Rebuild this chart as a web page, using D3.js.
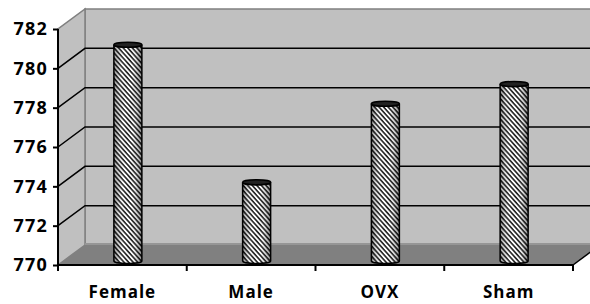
<!DOCTYPE html>
<html>
<head>
<meta charset="utf-8">
<script src="https://cdn.jsdelivr.net/npm/d3@7/dist/d3.min.js"></script>
<style>
  html, body { margin: 0; padding: 0; background: #fff; }
  svg { display: block; }
</style>
</head>
<body>
<div id="chart"></div>
<script>
const categories = ['Female', 'Male', 'OVX', 'Sham'];
const values = [781, 774, 778, 779];
const yTicks = [770, 772, 774, 776, 778, 780, 782];

const width = 590, height = 304;
const plotLeft = 58, plotRight = 573, plotBottom = 265, plotTop = 29;
const depthX = 27, depthY = -20;   // back wall offset
const barDX = 5.5, barDY = -4;     // bars sit a little behind the front plane
const barW = 28;
const fontFamily = '"Open Sans", Lato, sans-serif';

const svg = d3.select('#chart').append('svg')
  .attr('width', width)
  .attr('height', height);

const x = d3.scaleBand().domain(categories).range([plotLeft, plotRight]).padding(0);
const y = d3.scaleLinear().domain([770, 782]).range([plotBottom, plotTop]);

const defs = svg.append('defs');

// Diagonal hatch, running top-left to bottom-right
const hatch = defs.append('pattern')
  .attr('id', 'hatch')
  .attr('patternUnits', 'userSpaceOnUse')
  .attr('width', 3.4)
  .attr('height', 3.4)
  .attr('patternTransform', 'rotate(48)');
hatch.append('rect').attr('width', 3.4).attr('height', 3.4).attr('fill', '#fff');
hatch.append('rect').attr('width', 3.4).attr('height', 1.6).attr('fill', '#000');

// Cylinder shading
const shade = defs.append('linearGradient').attr('id', 'shade');
shade.append('stop').attr('offset', '0%').attr('stop-color', '#000').attr('stop-opacity', 0.45);
shade.append('stop').attr('offset', '35%').attr('stop-color', '#fff').attr('stop-opacity', 0.15);
shade.append('stop').attr('offset', '60%').attr('stop-color', '#fff').attr('stop-opacity', 0.1);
shade.append('stop').attr('offset', '100%').attr('stop-color', '#000').attr('stop-opacity', 0.5);

const y0 = y(770), yTop = y(782);

// Back wall
svg.append('rect')
  .attr('x', plotLeft + depthX)
  .attr('y', yTop + depthY)
  .attr('width', width - plotLeft - depthX + 20)
  .attr('height', y0 - yTop)
  .attr('fill', '#c0c0c0')
  .attr('stroke', '#808080')
  .attr('stroke-width', 1.5);

// Side wall
svg.append('polygon')
  .attr('points', [
    [plotLeft, y0], [plotLeft, yTop], [plotLeft + depthX, yTop + depthY], [plotLeft + depthX, y0 + depthY]
  ].join(' '))
  .attr('fill', '#c0c0c0')
  .attr('stroke', '#808080')
  .attr('stroke-width', 1.5);

// Floor
svg.append('polygon')
  .attr('points', [
    [plotLeft, y0], [plotLeft + depthX, y0 + depthY], [plotRight + depthX, y0 + depthY], [plotRight, y0]
  ].join(' '))
  .attr('fill', '#808080');
svg.append('line')
  .attr('x1', plotLeft + depthX).attr('x2', width)
  .attr('y1', y0 + depthY - 1).attr('y2', y0 + depthY - 1)
  .attr('stroke', '#969696').attr('stroke-width', 2);

// Gridlines
const grid = yTicks.filter(t => t > 770 && t < 782);
svg.append('g').selectAll('polyline')
  .data(grid)
  .join('polyline')
  .attr('points', d => [[plotLeft, y(d)], [plotLeft + depthX, y(d) + depthY], [width, y(d) + depthY]].join(' '))
  .attr('fill', 'none')
  .attr('stroke', '#000')
  .attr('stroke-width', 1.5);

// Bars (cylinders)
const bars = svg.append('g').selectAll('g')
  .data(categories.map((c, i) => ({ c, v: values[i] })))
  .join('g')
  .attr('transform', d => `translate(${x(d.c) + x.bandwidth() / 2 + barDX},${barDY})`);

const ry = 2.5;
const cylPath = d => {
  const yt = y(d.v), yb = y(770), r = barW / 2;
  return `M${-r},${yt} L${-r},${yb} A${r},${ry} 0 0 0 ${r},${yb} L${r},${yt} A${r},${ry} 0 0 1 ${-r},${yt} Z`;
};
bars.append('path').attr('d', cylPath).attr('fill', 'url(#hatch)');
bars.append('path').attr('d', cylPath).attr('fill', 'url(#shade)')
  .attr('stroke', '#000').attr('stroke-width', 1.5);
bars.append('ellipse')
  .attr('cx', 0).attr('cy', d => y(d.v))
  .attr('rx', barW / 2).attr('ry', ry)
  .attr('fill', '#222').attr('stroke', '#000').attr('stroke-width', 1.5);

// Axes
const yAxis = svg.append('g')
  .attr('transform', `translate(${plotLeft},0)`)
  .call(d3.axisLeft(y).tickValues(yTicks).tickSize(5).tickPadding(5).tickFormat(d3.format('d')));
yAxis.select('.domain').attr('stroke', '#000').attr('stroke-width', 2).attr('d', `M0,${y0}V${yTop}`);
yAxis.selectAll('.tick line').attr('stroke', '#000').attr('stroke-width', 2);
yAxis.selectAll('text')
  .attr('font-size', 18).attr('font-family', fontFamily).attr('font-weight', 'bold')
  .attr('letter-spacing', 1.2).attr('fill', '#000');

const xAxis = svg.append('g')
  .attr('transform', `translate(0,${y0})`)
  .call(d3.axisBottom(x).tickSize(0).tickPadding(21));
xAxis.select('.domain').remove();
xAxis.append('line')
  .attr('x1', plotLeft).attr('x2', plotRight)
  .attr('stroke', '#000').attr('stroke-width', 2);
xAxis.append('line')
  .attr('x1', plotRight).attr('y1', 0).attr('x2', plotRight + depthX).attr('y2', depthY)
  .attr('stroke', '#000').attr('stroke-width', 1.5);
xAxis.selectAll('.sep')
  .data(d3.range(categories.length + 1))
  .join('line')
  .attr('class', 'sep')
  .attr('x1', i => plotLeft + i * x.step()).attr('x2', i => plotLeft + i * x.step())
  .attr('y1', 0).attr('y2', 6)
  .attr('stroke', '#000').attr('stroke-width', 2);
xAxis.selectAll('text')
  .attr('font-size', 17).attr('font-family', fontFamily).attr('font-weight', 'bold')
  .attr('letter-spacing', 1).attr('fill', '#000');
</script>
</body>
</html>
